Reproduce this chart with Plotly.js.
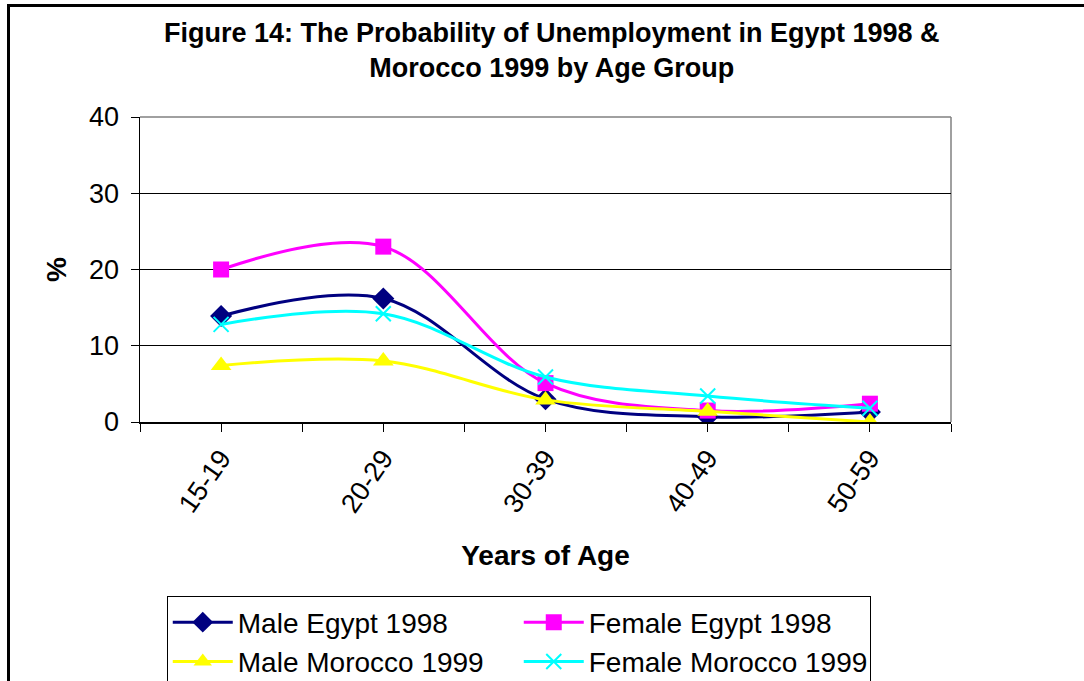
<!DOCTYPE html>
<html>
<head>
<meta charset="utf-8">
<script src="https://cdn.plot.ly/plotly-3.0.1.min.js"></script>
<style>
  html, body { margin: 0; padding: 0; background: #fff; overflow: hidden; }
  #chart { position: absolute; left: 0; top: 0; width: 1084px; height: 681px; }
  #frame { position: absolute; left: 7px; top: 4px; width: 1090px; height: 700px;
           border-top: 3px solid #000; border-left: 3px solid #000; pointer-events: none; }
</style>
</head>
<body>
<div id="chart"></div>
<div id="frame"></div>
<script>
const categories = ['15-19', '20-29', '30-39', '40-49', '50-59'];
const seriesNames = ['Male Egypt 1998', 'Female Egypt 1998', 'Male Morocco 1999', 'Female Morocco 1999'];
const maleEgypt = [13.9, 16.2, 3.0, 0.7, 1.3];
const femaleEgypt = [20.0, 23.0, 5.1, 1.5, 2.4];
const maleMorocco = [7.4, 8.0, 2.9, 1.4, 0.0];
const femaleMorocco = [12.8, 14.2, 5.9, 3.4, 1.8];
const yTicks = [0, 10, 20, 30, 40];

const xIdx = categories.map((c, i) => i);
const FONT = 'Arial, "Liberation Sans", sans-serif';

function mk(name, y, color, symbol, size, lineW) {
  return {
    type: 'scatter', mode: 'lines+markers', name: name,
    x: xIdx, y: y,
    line: { color: color, width: 3, shape: 'spline', smoothing: 1 },
    marker: { color: color, symbol: symbol, size: size, line: { width: lineW || 0, color: color } }
  };
}

const traces = [
  mk(seriesNames[0], maleEgypt, '#000080', 'diamond', 17),
  mk(seriesNames[1], femaleEgypt, '#FF00FF', 'square', 16),
  mk(seriesNames[2], maleMorocco, '#FFFF00', 'triangle-up', 18),
  mk(seriesNames[3], femaleMorocco, '#00FFFF', 'x-thin', 15, 2)
];

const layout = {
  width: 1084, height: 681,
  margin: { l: 140, r: 133, t: 117, b: 259, autoexpand: false },
  paper_bgcolor: 'rgba(0,0,0,0)', plot_bgcolor: '#fff',
  font: { family: FONT, color: '#000', size: 28 },
  title: {
    text: '<b>Figure 14: The Probability of Unemployment in Egypt 1998 &<br>Morocco 1999 by Age Group</b>',
    font: { family: FONT, size: 27, color: '#000' },
    x: 0.509, xref: 'container', xanchor: 'center',
    y: 0.939, yref: 'container', yanchor: 'top'
  },
  showlegend: true,
  legend: {
    orientation: 'h', x: 0.033, xanchor: 'left', y: -0.572, yanchor: 'top',
    bordercolor: '#000', borderwidth: 1, bgcolor: '#fff',
    font: { family: FONT, size: 28, color: '#000' },
    entrywidth: 276, itemwidth: 60, traceorder: 'normal'
  },
  xaxis: {
    type: 'linear', range: [-0.5, 4.5], fixedrange: true, automargin: false,
    tickmode: 'array', tickvals: xIdx, ticktext: categories,
    tickangle: -55, ticks: 'outside', ticklen: 8, tickcolor: '#000', tickwidth: 1,
    showgrid: false, zeroline: false,
    showline: true, linecolor: '#000', linewidth: 1.5,
    tickfont: { family: FONT, size: 27, color: '#000' },
    minor: { tickmode: 'linear', tick0: -0.5, dtick: 0.5, ticks: 'outside', ticklen: 8, tickcolor: '#000', tickwidth: 1, showgrid: false },
    title: { text: '<b>Years of Age</b>', font: { family: FONT, size: 28, color: '#000' }, standoff: 28 }
  },
  yaxis: {
    range: [0, 40], fixedrange: true, automargin: false,
    tickmode: 'array', tickvals: yTicks, ticktext: yTicks.map(String),
    ticks: 'outside', ticklen: 8, tickcolor: '#000', tickwidth: 1, ticklabelstandoff: 6,
    showgrid: true, gridcolor: '#000', gridwidth: 1.2, zeroline: false,
    showline: true, linecolor: '#000', linewidth: 1.5,
    tickfont: { family: FONT, size: 27, color: '#000' },
    title: { text: '<b>%</b>', font: { family: FONT, size: 28, color: '#000' }, standoff: 14 }
  },
  shapes: [
    { type: 'line', xref: 'paper', yref: 'paper', x0: 0, x1: 1, y0: 1, y1: 1, line: { color: '#808080', width: 1.5 }, layer: 'above' },
    { type: 'line', xref: 'paper', yref: 'paper', x0: 1, x1: 1, y0: 0, y1: 1, line: { color: '#808080', width: 1.5 }, layer: 'below' }
  ]
};

Plotly.newPlot('chart', traces, layout, { staticPlot: true, displayModeBar: false });
</script>
</body>
</html>
